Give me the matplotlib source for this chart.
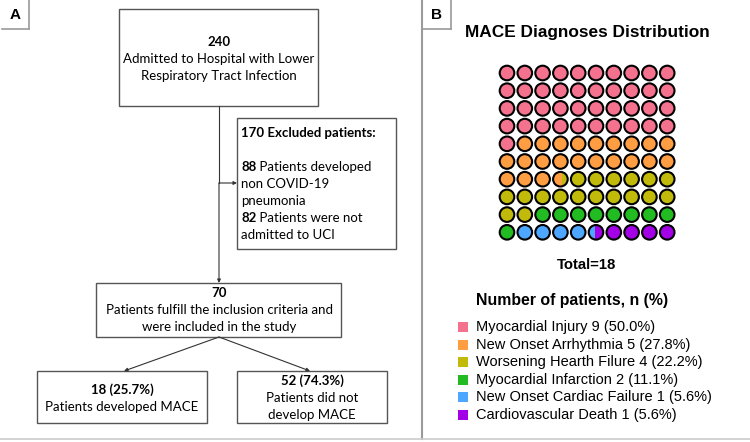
import numpy as np
import matplotlib
matplotlib.use('Agg')
import matplotlib.pyplot as plt
from matplotlib.patches import Rectangle, Circle

# datos del waffle (panel B)
diagnoses = ['Myocardial Injury', 'New Onset Arrhythmia', 'Worsening Hearth Filure',
             'Myocardial Infarction', 'New Onset Cardiac Failure', 'Cardiovascular Death']
counts = [9, 5, 4, 2, 1, 1]
percents = ['50.0%', '27.8%', '22.2%', '11.1%', '5.6%', '5.6%']
colors = ['#F5728F', '#FF9D42', '#C2BA0A', '#22BB22', '#4DA6FF', '#A300E8']
total_mace = 18

# textos del diagrama de flujo (panel A)
n_admitted = '240'
admitted_txt = ['Admitted to Hospital with Lower', 'Respiratory Tract Infection']
excluded_head = '170 Excluded patients:'
excluded_lines = [('88', ' Patients developed'), ('', 'non COVID-19'), ('', 'pneumonia'),
                  ('82', ' Patients were not'), ('', 'admitted to UCI')]
n_included = '70'
included_txt = ['Patients fulfill the inclusion criteria and', 'were included in the study']
mace_yes = '18 (25.7%)'
mace_yes_txt = ['Patients developed MACE']
mace_no = '52 (74.3%)'
mace_no_txt = ['Patients did not', 'develop MACE']

fig = plt.figure(figsize=(7.5, 4.42), dpi=100)
ax = fig.add_axes([0, 0, 1, 1])
ax.set_xlim(0, 750)
ax.set_ylim(442, 0)
ax.axis('off')

FA = 'Lato'
FB = 'Liberation Sans'
EDGE = '#555555'

# -----------------------------------------------------------------------------
# marcos y etiquetas A / B
grey = '#9a9a9a'
ax.plot([29, 29], [0, 29], color=grey, lw=1.2)
ax.plot([2, 29], [29, 29], color=grey, lw=1.2)
ax.plot([451, 451], [0, 29], color=grey, lw=1.2)
ax.plot([422, 451], [29, 29], color=grey, lw=1.2)
ax.plot([422, 422], [0, 439], color=grey, lw=1.5)
ax.plot([0, 750], [439, 439], color='#cccccc', lw=1.2)
ax.text(15, 15, 'A', family=FB, weight='bold', fontsize=11, ha='center', va='center')
ax.text(437, 15, 'B', family=FB, weight='bold', fontsize=11, ha='center', va='center')


# -----------------------------------------------------------------------------
# panel A
def box(x0, y0, x1, y1):
    ax.add_patch(Rectangle((x0, y0), x1 - x0, y1 - y0, fill=False,
                           edgecolor=EDGE, lw=1.0))


def arrow(x0, y0, x1, y1):
    ax.annotate('', xy=(x1, y1), xytext=(x0, y0),
                arrowprops=dict(arrowstyle='-|>', color='#333333', lw=0.8,
                                mutation_scale=5, shrinkA=0, shrinkB=0))


fs = 9.5
box(119, 9, 318, 106)
ax.text(219, 42, n_admitted, family=FA, weight='bold', fontsize=fs, ha='center', va='center')
for k, t in enumerate(admitted_txt):
    ax.text(219, 59 + k * 17, t, family=FA, fontsize=fs, ha='center', va='center')

box(237, 118, 396, 249)
ax.text(241, 133, excluded_head, family=FA, weight='bold', fontsize=fs, va='center')
for k, (b, t) in enumerate(excluded_lines):
    y = 167 + k * 17
    tb = ax.text(241, y, b, family=FA, weight='bold', fontsize=fs, va='center')
    ax.annotate(t, xy=(1, 0.5), xycoords=tb, family=FA, fontsize=fs, va='center')

box(96, 283, 341, 337)
ax.text(219, 293, n_included, family=FA, weight='bold', fontsize=fs, ha='center', va='center')
for k, t in enumerate(included_txt):
    ax.text(219, 310 + k * 17, t, family=FA, fontsize=fs, ha='center', va='center')

box(37, 371, 207, 423)
ax.text(122, 390, mace_yes, family=FA, weight='bold', fontsize=fs, ha='center', va='center')
for k, t in enumerate(mace_yes_txt):
    ax.text(122, 407 + k * 17, t, family=FA, fontsize=fs, ha='center', va='center')

box(237, 371, 387, 423)
ax.text(312, 381, mace_no, family=FA, weight='bold', fontsize=fs, ha='center', va='center')
for k, t in enumerate(mace_no_txt):
    ax.text(312, 398 + k * 17, t, family=FA, fontsize=fs, ha='center', va='center')

ax.plot([219, 219], [106, 183], color='#333333', lw=0.8)
arrow(219, 183, 237, 183)
arrow(219, 183, 219, 283)
arrow(219, 337, 124, 371)
arrow(219, 337, 310, 371)

# -----------------------------------------------------------------------------
# panel B: waffle de círculos
ax.text(587, 33, 'MACE Diagnoses Distribution', family=FB, weight='bold',
        fontsize=12.4, ha='center', va='center')

cum = np.concatenate([[0], np.cumsum(counts)]) / np.sum(counts) * 100
x0, y0, dx, dy, r = 507, 73, 17.8, 17.7, 7.3
for i in range(100):
    cx = x0 + (i % 10) * dx
    cy = y0 + (i // 10) * dy
    clip = Circle((cx, cy), r, transform=ax.transData)
    # trozos de cada categoría dentro del círculo; los muy pequeños no se pintan
    parts = []
    for c in range(len(counts)):
        f = min(cum[c + 1], i + 1) - max(cum[c], i)
        if f >= 0.2:
            parts.append((c, f))
    tot = sum(f for _, f in parts)
    left = cx - r
    for c, f in parts:
        w = f / tot * 2 * r
        rect = Rectangle((left, cy - r), w, 2 * r, facecolor=colors[c], edgecolor='none')
        ax.add_patch(rect)
        rect.set_clip_path(clip)
        left += w
    ax.add_patch(Circle((cx, cy), r, fill=False, edgecolor='black', lw=1.5))

ax.text(587, 265, f'Total={total_mace}', family=FB, weight='bold', fontsize=10.7,
        ha='center', va='center')
ax.text(476, 300, 'Number of patients, n (%)', family=FB, weight='bold', fontsize=11.4,
        va='center')
for k, (d, n, p) in enumerate(zip(diagnoses, counts, percents)):
    y = 327 + k * 17.6
    ax.add_patch(Rectangle((458, y - 5), 10, 10, facecolor=colors[k], edgecolor='none'))
    ax.text(476, y, f'{d} {n} ({p})', family=FB, fontsize=10.5, va='center')

fig.savefig('out.png', dpi=100)
